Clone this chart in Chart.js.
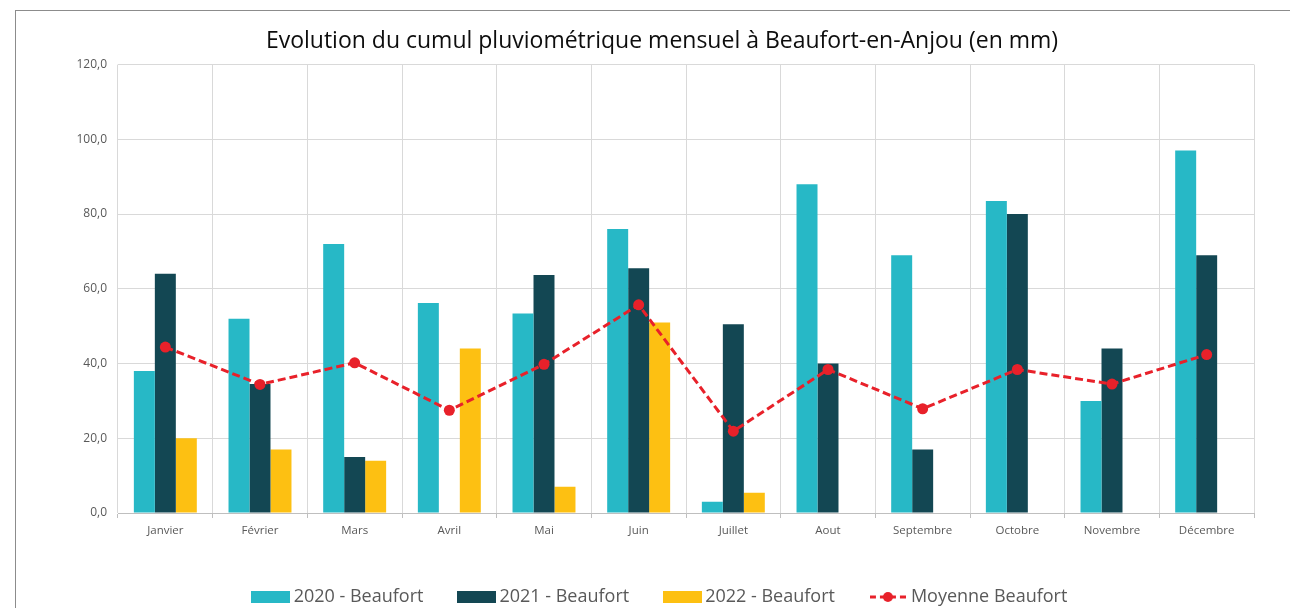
<!DOCTYPE html>
<html>
<head>
<meta charset="utf-8">
<script src="https://cdn.jsdelivr.net/npm/chart.js@4.4.1/dist/chart.umd.min.js"></script>
<style>
  html, body { margin: 0; padding: 0; background: #fff; }
  #wrap { position: relative; width: 1290px; height: 608px; overflow: hidden; }
  #frame { position: absolute; left: 15px; top: 10px; width: 1400px; height: 700px;
           border-left: 1px solid #8c8c8c; border-top: 1px solid #8c8c8c; pointer-events: none; }
  canvas { position: absolute; left: 0; top: 0; }
</style>
</head>
<body>
<div id="wrap">
  <canvas id="chart" width="1290" height="608"></canvas>
  <div id="frame"></div>
</div>
<script>
// Données (mm)
const mois = ['Janvier', 'Février', 'Mars', 'Avril', 'Mai', 'Juin', 'Juillet', 'Aout', 'Septembre', 'Octobre', 'Novembre', 'Décembre'];
const pluie2020 = [38, 52, 72, 56.2, 53.4, 76, 3, 88, 69, 83.5, 30, 97];
const pluie2021 = [64, 34.5, 15, null, 63.7, 65.5, 50.5, 40, 17, 80, 44, 69];
const pluie2022 = [20, 17, 14, 44, 7, 51, 5.4, null, null, null, null, null];
const moyenne = [44.4, 34.4, 40.2, 27.5, 39.8, 55.7, 21.9, 38.4, 27.9, 38.4, 34.5, 42.4];
const yTicks = [0, 20, 40, 60, 80, 100, 120];

const C2020 = '#27b8c6';
const C2021 = '#134753';
const C2022 = '#fdc012';
const CMOY = '#e8212a';
const FONT = "'Open Sans', sans-serif";

// pictos de légende
function boxIcon(color) {
  const c = document.createElement('canvas');
  c.width = 39; c.height = 12;
  const g = c.getContext('2d');
  g.fillStyle = color;
  g.fillRect(0, 0, 39, 12);
  return c;
}
function lineIcon(color) {
  const c = document.createElement('canvas');
  c.width = 36; c.height = 12;
  const g = c.getContext('2d');
  g.strokeStyle = color;
  g.lineWidth = 3;
  g.setLineDash([6, 4]);
  g.beginPath();
  g.moveTo(0, 6); g.lineTo(36, 6);
  g.stroke();
  g.fillStyle = color;
  g.beginPath();
  g.arc(18, 6, 5, 0, Math.PI * 2);
  g.fill();
  return c;
}
const icons = [boxIcon(C2020), boxIcon(C2021), boxIcon(C2022), lineIcon(CMOY)];

const fmt = v => v.toFixed(1).replace('.', ',');

new Chart(document.getElementById('chart'), {
  type: 'bar',
  data: {
    labels: mois,
    datasets: [
      { label: '2020 - Beaufort', data: pluie2020, backgroundColor: C2020, order: 2 },
      { label: '2021 - Beaufort', data: pluie2021, backgroundColor: C2021, order: 2 },
      { label: '2022 - Beaufort', data: pluie2022, backgroundColor: C2022, order: 2 },
      {
        label: 'Moyenne Beaufort', data: moyenne, type: 'line', order: 1,
        borderColor: CMOY, backgroundColor: CMOY, borderWidth: 3, borderDash: [8, 4],
        pointRadius: 5.5, pointBackgroundColor: CMOY, pointBorderWidth: 0, tension: 0, fill: false
      }
    ]
  },
  options: {
    responsive: false,
    animation: false,
    events: [],
    layout: { padding: { left: 34, right: 0, top: 0, bottom: -8 } },
    datasets: { bar: { categoryPercentage: 0.665, barPercentage: 1 } },
    plugins: {
      title: {
        display: true,
        text: 'Evolution du cumul pluviométrique mensuel à Beaufort-en-Anjou (en mm)',
        color: '#0d0d0d',
        font: { family: FONT, size: 23, weight: 'normal' },
        padding: { top: 28, bottom: 9 }
      },
      legend: {
        position: 'bottom',
        labels: {
          usePointStyle: true,
          pointStyleWidth: 28,
          boxHeight: 12,
          padding: 39,
          color: '#595959',
          font: { family: FONT, size: 18 },
          generateLabels: chart => chart.data.datasets.map((ds, i) => ({
            text: ds.label,
            pointStyle: icons[i],
            fillStyle: 'transparent',
            strokeStyle: 'transparent',
            lineWidth: 0,
            fontColor: '#595959',
            datasetIndex: i
          }))
        }
      },
      tooltip: { enabled: false }
    },
    scales: {
      x: {
        grid: { color: '#d9d9d9', tickColor: '#bfbfbf', tickLength: 5, offset: true },
        border: { color: '#bfbfbf', width: 1 },
        ticks: { color: '#595959', font: { family: FONT, size: 11.5 }, padding: 6, maxRotation: 0 },
        afterFit: s => { s.height = 36; }
      },
      y: {
        min: 0, max: 120,
        afterBuildTicks: s => { s.ticks = yTicks.map(v => ({ value: v })); },
        grid: { color: '#d9d9d9', drawTicks: false },
        border: { display: false },
        ticks: { color: '#595959', font: { family: FONT, size: 12 }, padding: 11, callback: v => fmt(v) },
        afterFit: s => { s.width = 84; }
      },
      marge: {
        position: 'right',
        grid: { display: false },
        border: { display: false },
        ticks: { display: false },
        afterFit: s => { s.width = 36; }
      }
    }
  }
});
</script>
</body>
</html>
